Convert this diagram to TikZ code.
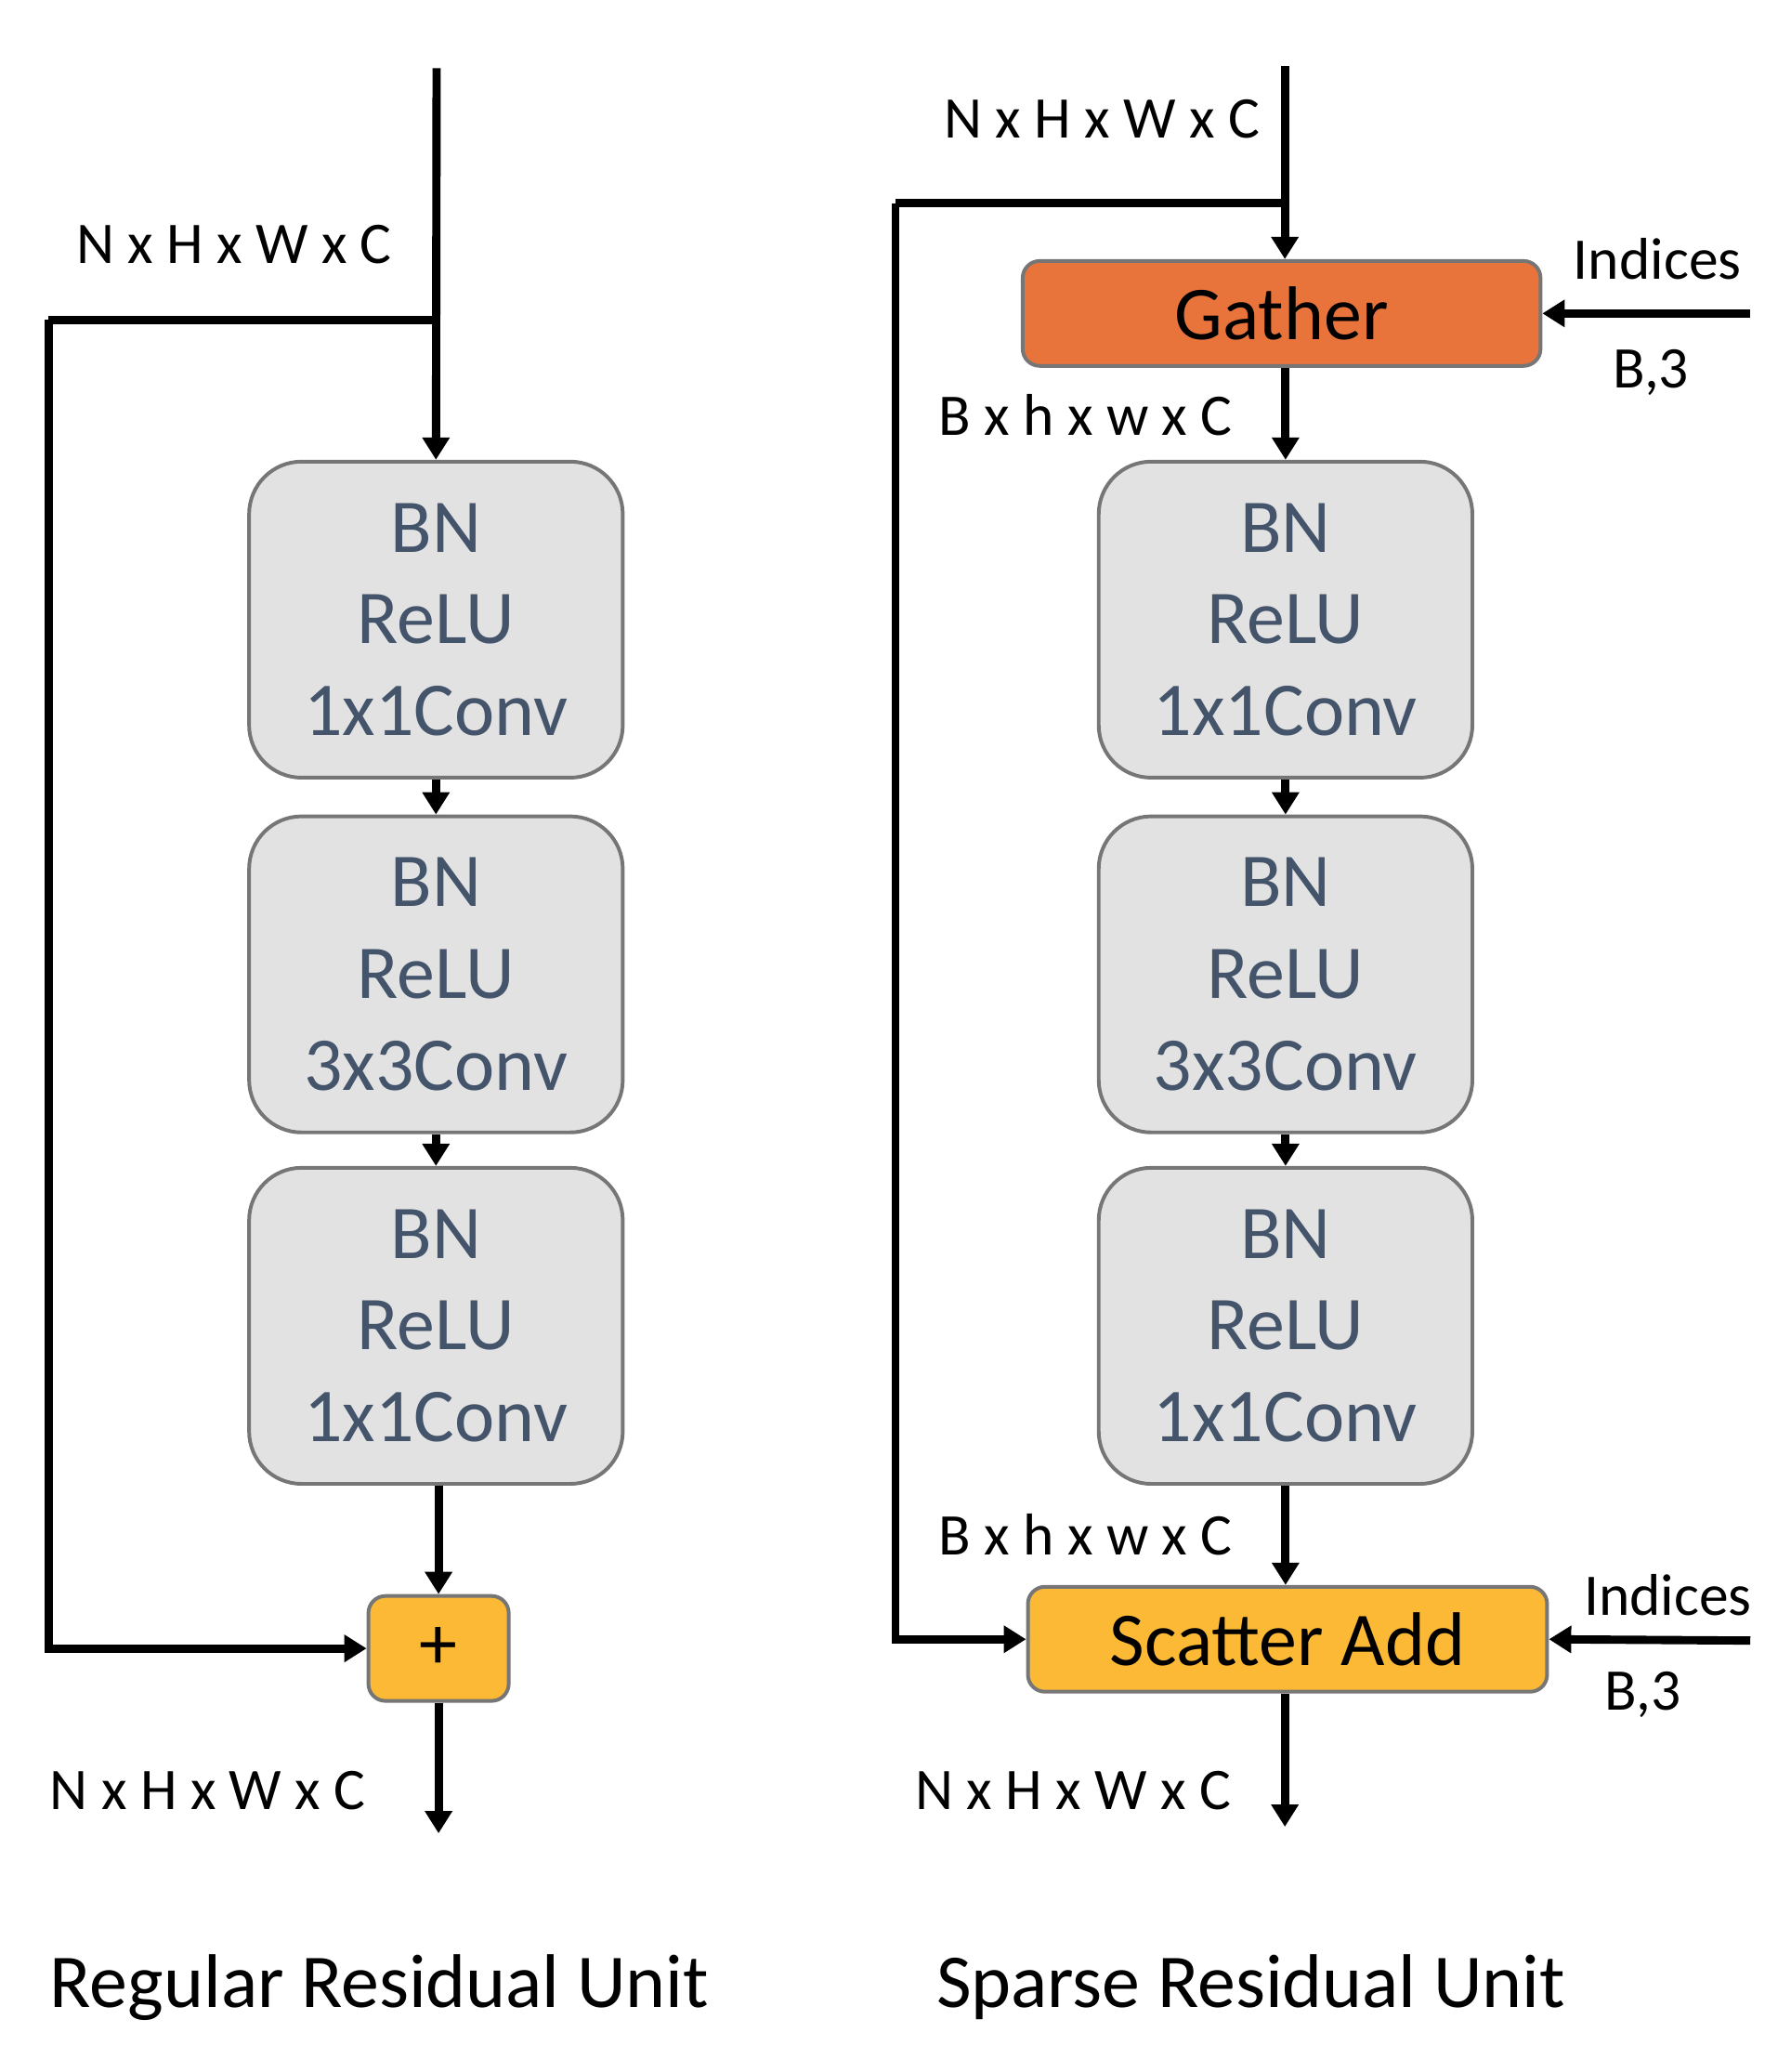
\documentclass[tikz,border=0pt]{standalone}
\usepackage{fontspec}
\setmainfont{Carlito}
\usetikzlibrary{arrows.meta}
\definecolor{boxfill}{HTML}{E2E2E2}
\definecolor{boxborder}{HTML}{767676}
\definecolor{boxtext}{HTML}{44546A}
\definecolor{goldfill}{HTML}{FBB935}
\definecolor{orangefill}{HTML}{E8743B}
\tikzset{
  convbox/.style={draw=boxborder, line width=2.8pt, fill=boxfill, rounded corners=40pt,
    minimum width=285pt, minimum height=241pt, text=boxtext, align=center,
    font=\fontsize{58}{70}\selectfont, inner sep=0pt},
  opbox/.style={draw=boxborder, line width=2.8pt, rounded corners=13pt,
    minimum height=80pt, inner sep=0pt, font=\fontsize{58}{68}\selectfont},
  lbl/.style={inner sep=0pt, anchor=base west, font=\fontsize{45}{52}\selectfont},
  ttl/.style={inner sep=0pt, anchor=base west, font=\fontsize{58}{68}\selectfont},
  conn/.style={line width=6.3pt, -{Triangle[length=17pt,width=20pt]}},
  plainline/.style={line width=6.3pt},
}
\begin{document}
\begin{tikzpicture}[x=1pt,y=-1pt]
\useasboundingbox (0,0) rectangle (1366,1580);
% ---------- Regular residual unit ----------
\node[convbox] (L1) at (332.5,472.5) {BN\\ReLU\\1x1Conv};
\node[convbox] (L2) at (332.5,743) {BN\\ReLU\\3x3Conv};
\node[convbox] (L3) at (332.5,1011) {BN\\ReLU\\1x1Conv};
\node[opbox, fill=goldfill, minimum width=107pt] (plus) at (334.5,1257) {+};
\coordinate (Ltop) at (333,52);
\coordinate (Lbr) at (333,244);
\coordinate (Lcorner) at (37,244);
\coordinate (Lout) at (338,1398);
\draw[conn] (Ltop) -- (L1.north);
\draw[plainline] (Lbr) -- (Lcorner);
\draw[conn, line join=miter] (Lcorner) |- (plus.west);
\draw[conn] (L1.south) -- (L2.north);
\draw[conn] (L2.south) -- (L3.north);
\draw[conn] (plus.north |- L3.south) -- (plus.north);
\draw[conn] (plus.south) -- (plus.south |- Lout);
\node[lbl] (lt) at (58,201) {N x H x W x C};
\node[lbl] (lb) at (38,1380) {N x H x W x C};
\node[ttl] (ltitle) at (38,1531) {Regular Residual Unit};
% ---------- Sparse residual unit ----------
\node[opbox, fill=orangefill, minimum width=395pt] (gather) at (977.5,239) {Gather};
\node[convbox] (R1) at (980.5,472.5) {BN\\ReLU\\1x1Conv};
\node[convbox] (R2) at (980.5,743) {BN\\ReLU\\3x3Conv};
\node[convbox] (R3) at (980.5,1011) {BN\\ReLU\\1x1Conv};
\node[opbox, fill=goldfill, minimum width=396pt] (scatter) at (982,1250) {Scatter Add};
\coordinate (Rtop) at (980,50);
\coordinate (Rbr) at (980,155);
\coordinate (Rcorner) at (683,155);
\coordinate (Rout) at (980,1393);
\coordinate (Rin1) at (1335,239);
\coordinate (Rin2) at (1335,1251);
\draw[conn] (Rtop) -- (Rtop |- gather.north);
\draw[plainline] (Rbr) -- (Rcorner);
\draw[conn, line join=miter] (Rcorner) |- (scatter.west);
\draw[conn] (R1.north |- gather.south) -- (R1.north);
\draw[conn] (R1.south) -- (R2.north);
\draw[conn] (R2.south) -- (R3.north);
\draw[conn] (R3.south) -- (R3.south |- scatter.north);
\draw[conn] (Rout |- scatter.south) -- (Rout);
\draw[conn] (Rin1) -- (gather.east);
\draw[conn] (Rin2) -- (scatter.east);
\node[lbl] (rt) at (720,105) {N x H x W x C};
\node[lbl] (ri1) at (1200,213) {Indices};
\node[lbl] (rb1) at (1230,296) {B,3};
\node[lbl] (rs1) at (716,332) {B x h x w x C};
\node[lbl] (rs2) at (716,1186) {B x h x w x C};
\node[lbl] (ri2) at (1208,1232) {Indices};
\node[lbl] (rb2) at (1224,1304) {B,3};
\node[lbl] (rbo) at (698,1380) {N x H x W x C};
\node[ttl] (rtitle) at (714,1531) {Sparse Residual Unit};
\end{tikzpicture}
\end{document}
